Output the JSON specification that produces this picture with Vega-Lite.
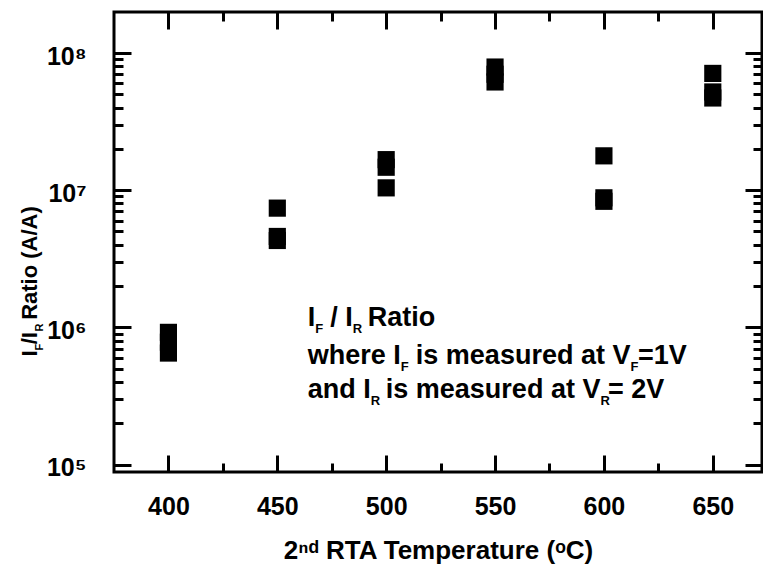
{
  "$schema": "https://vega.github.io/schema/vega-lite/v6.json",
  "width": 648,
  "height": 460,
  "autosize": {"type": "none"},
  "padding": {"left": 114, "top": 12, "right": 1, "bottom": 102},
  "background": "white",
  "data": {"values": [
    {"temp": 400, "ratio": 920000}, {"temp": 400, "ratio": 780000}, {"temp": 400, "ratio": 650000},
    {"temp": 450, "ratio": 7400000}, {"temp": 450, "ratio": 4600000}, {"temp": 450, "ratio": 4300000},
    {"temp": 500, "ratio": 16700000}, {"temp": 500, "ratio": 14700000}, {"temp": 500, "ratio": 10400000},
    {"temp": 550, "ratio": 79000000}, {"temp": 550, "ratio": 70000000}, {"temp": 550, "ratio": 61500000},
    {"temp": 600, "ratio": 17800000}, {"temp": 600, "ratio": 8800000}, {"temp": 600, "ratio": 8300000},
    {"temp": 650, "ratio": 71000000}, {"temp": 650, "ratio": 52000000}, {"temp": 650, "ratio": 47000000}
  ]},
  "layer": [
    {
      "mark": {"type": "point", "shape": "square", "filled": true, "size": 295, "color": "black", "opacity": 1},
      "encoding": {
        "x": {"field": "temp", "type": "quantitative", "scale": {"domain": [375, 672.6], "nice": false, "zero": false},
          "axis": {"orient": "bottom", "values": [400, 450, 500, 550, 600, 650], "tickSize": -17, "labelPadding": 39, "labelBaseline": "top",
            "title": "2ⁿᵈ RTA Temperature (ᵒC)", "titleFontSize": 26, "titleBaseline": "alphabetic", "titleX": 324, "titleY": 86, "titleAnchor": "middle", "titleAlign": "center"}},
        "y": {"field": "ratio", "type": "quantitative", "scale": {"type": "log", "domain": [88300, 199000000], "nice": false},
          "axis": {"orient": "left", "values": [100000, 1000000, 10000000, 100000000], "tickSize": -17, "labelPadding": 45, "labelOffset": 3, "labelBaseline": "middle",
            "labelExpr": "datum.value == 100000 ? '10⁵' : datum.value == 1000000 ? '10⁶' : datum.value == 10000000 ? '10⁷' : '10⁸'",
            "title": "I\u00a0/I\u00a0\u00a0Ratio (A/A)", "titleFontSize": 22, "titleAngle": 270, "titleAlign": "left", "titleBaseline": "alphabetic", "titleX": -78, "titleY": 344}}
      }
    },
    {
      "mark": {"type": "point", "opacity": 0},
      "encoding": {
        "x": {"field": "temp", "type": "quantitative", "scale": {"domain": [375, 672.6], "nice": false, "zero": false},
          "axis": {"orient": "bottom", "values": [425, 475, 525, 575, 625], "tickSize": -9, "labels": false, "title": null}},
        "y": {"field": "ratio", "type": "quantitative", "scale": {"type": "log", "domain": [88300, 199000000], "nice": false},
          "axis": {"orient": "left", "values": [200000, 300000, 400000, 500000, 600000, 700000, 800000, 900000, 2000000, 3000000, 4000000, 5000000, 6000000, 7000000, 8000000, 9000000, 20000000, 30000000, 40000000, 50000000, 60000000, 70000000, 80000000, 90000000],
            "tickSize": -9, "labels": false,
            "title": "F\u00a0\u00a0\u00a0\u00a0R", "titleFontSize": 11, "titleAngle": 270, "titleAlign": "left", "titleBaseline": "alphabetic", "titleX": -72, "titleY": 337.9}}
      }
    },
    {
      "mark": {"type": "point", "opacity": 0},
      "encoding": {
        "x": {"field": "temp", "type": "quantitative", "scale": {"domain": [375, 672.6], "nice": false, "zero": false},
          "axis": {"orient": "top", "values": [400, 450, 500, 550, 600, 650], "tickSize": -17, "labels": false, "title": null}},
        "y": {"field": "ratio", "type": "quantitative", "scale": {"type": "log", "domain": [88300, 199000000], "nice": false},
          "axis": {"orient": "right", "values": [100000, 1000000, 10000000, 100000000], "tickSize": -17, "labels": false, "title": null}}
      }
    },
    {
      "mark": {"type": "point", "opacity": 0},
      "encoding": {
        "x": {"field": "temp", "type": "quantitative", "scale": {"domain": [375, 672.6], "nice": false, "zero": false},
          "axis": {"orient": "top", "values": [425, 475, 525, 575, 625], "tickSize": -9, "labels": false, "title": null}},
        "y": {"field": "ratio", "type": "quantitative", "scale": {"type": "log", "domain": [88300, 199000000], "nice": false},
          "axis": {"orient": "right", "values": [200000, 300000, 400000, 500000, 600000, 700000, 800000, 900000, 2000000, 3000000, 4000000, 5000000, 6000000, 7000000, 8000000, 9000000, 20000000, 30000000, 40000000, 50000000, 60000000, 70000000, 80000000, 90000000],
            "tickSize": -9, "labels": false, "title": null}}
      }
    },
    {
      "data": {"values": [{}]},
      "mark": {"type": "text", "text": "I\u00a0\u00a0/\u00a0I\u00a0\u00a0Ratio", "fontSize": 27, "dy": -1},
      "encoding": {"x": {"datum": 464, "type": "quantitative", "axis": null}, "y": {"datum": 1000000, "type": "quantitative", "axis": null}}
    },
    {
      "data": {"values": [{}]},
      "mark": {"type": "text", "text": "F", "fontSize": 13, "dx": 7.5, "dy": 6},
      "encoding": {"x": {"datum": 464, "type": "quantitative", "axis": null}, "y": {"datum": 1000000, "type": "quantitative", "axis": null}}
    },
    {
      "data": {"values": [{}]},
      "mark": {"type": "text", "text": "R", "fontSize": 13, "dx": 45.0, "dy": 6},
      "encoding": {"x": {"datum": 464, "type": "quantitative", "axis": null}, "y": {"datum": 1000000, "type": "quantitative", "axis": null}}
    },
    {
      "data": {"values": [{}]},
      "mark": {"type": "text", "text": "where I\u00a0\u00a0is measured at V\u00a0=1V", "fontSize": 27, "dy": 37},
      "encoding": {"x": {"datum": 464, "type": "quantitative", "axis": null}, "y": {"datum": 1000000, "type": "quantitative", "axis": null}}
    },
    {
      "data": {"values": [{}]},
      "mark": {"type": "text", "text": "F", "fontSize": 13, "dx": 93.0, "dy": 44},
      "encoding": {"x": {"datum": 464, "type": "quantitative", "axis": null}, "y": {"datum": 1000000, "type": "quantitative", "axis": null}}
    },
    {
      "data": {"values": [{}]},
      "mark": {"type": "text", "text": "F", "fontSize": 13, "dx": 322.7, "dy": 44},
      "encoding": {"x": {"datum": 464, "type": "quantitative", "axis": null}, "y": {"datum": 1000000, "type": "quantitative", "axis": null}}
    },
    {
      "data": {"values": [{}]},
      "mark": {"type": "text", "text": "and I\u00a0\u00a0is measured at V\u00a0= 2V", "fontSize": 27, "dy": 71},
      "encoding": {"x": {"datum": 464, "type": "quantitative", "axis": null}, "y": {"datum": 1000000, "type": "quantitative", "axis": null}}
    },
    {
      "data": {"values": [{}]},
      "mark": {"type": "text", "text": "R", "fontSize": 13, "dx": 63.0, "dy": 78},
      "encoding": {"x": {"datum": 464, "type": "quantitative", "axis": null}, "y": {"datum": 1000000, "type": "quantitative", "axis": null}}
    },
    {
      "data": {"values": [{}]},
      "mark": {"type": "text", "text": "R", "fontSize": 13, "dx": 292.6, "dy": 78},
      "encoding": {"x": {"datum": 464, "type": "quantitative", "axis": null}, "y": {"datum": 1000000, "type": "quantitative", "axis": null}}
    }
  ],
  "resolve": {"axis": {"x": "independent", "y": "independent"}},
  "config": {
    "view": {"stroke": "black", "strokeWidth": 3},
    "axis": {"domain": false, "grid": false, "tickColor": "black", "tickWidth": 3, "labelFont": "Liberation Sans", "labelFontWeight": "bold", "labelFontSize": 25, "labelColor": "black", "titleFont": "Liberation Sans", "titleFontWeight": "bold", "titleColor": "black"},
    "text": {"font": "Liberation Sans", "fontWeight": "bold", "color": "black", "align": "left", "baseline": "alphabetic"}
  }
}
